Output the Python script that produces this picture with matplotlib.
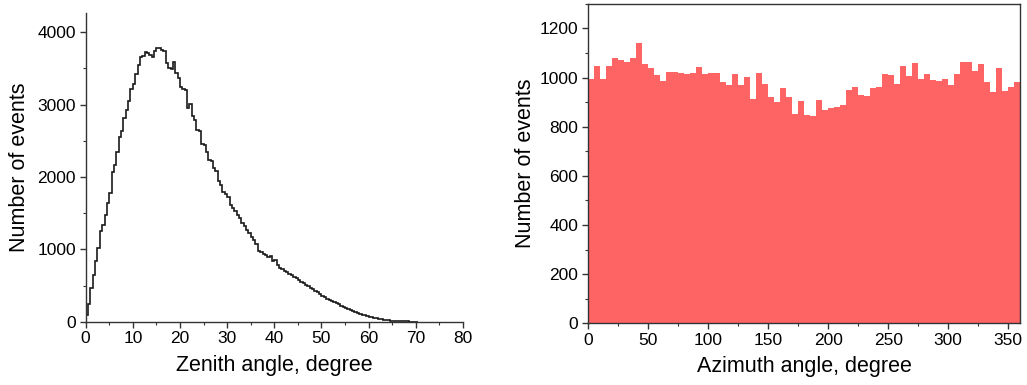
import matplotlib
matplotlib.use("Agg")
import matplotlib.pyplot as plt
from matplotlib.ticker import MultipleLocator
import numpy as np

plt.rcParams["font.family"] = ["Liberation Sans", "DejaVu Sans"]

# zenith histogram, 0.5 degree bins starting at 0
zenith_bin = 0.5
zenith_counts = [90, 250, 460, 650, 840, 1015, 1250, 1340, 1480, 1640,
                 1780, 2070, 2170, 2350, 2550, 2630, 2810, 2930, 3050, 3210,
                 3280, 3420, 3550, 3650, 3670, 3730, 3715, 3690, 3650, 3740,
                 3775, 3785, 3760, 3740, 3580, 3510, 3485, 3590, 3440, 3370,
                 3240, 3220, 3195, 2955, 3005, 2845, 2790, 2645, 2635, 2455,
                 2440, 2345, 2240, 2215, 2124, 2087, 1948, 1893, 1791, 1763,
                 1727, 1607, 1570, 1533, 1468, 1431, 1357, 1325, 1260, 1219,
                 1177, 1131, 1071, 970, 960, 932, 923, 900, 905, 840,
                 859, 785, 745, 730, 700, 688, 655, 640, 612, 598,
                 570, 552, 528, 505, 492, 470, 452, 428, 408, 385,
                 362, 343, 320, 302, 288, 268, 252, 240, 222, 207,
                 190, 178, 162, 150, 136, 122, 112, 98, 90, 80,
                 70, 61, 52, 46, 38, 33, 28, 22, 19, 15,
                 12, 10, 8, 6, 5, 4, 3, 2, 2, 1, 1]

# azimuth histogram, 5 degree bins
azimuth_bin = 5
azimuth_counts = [995, 1048, 995, 1048, 1080, 1070, 1063, 1080, 1141, 1056,
                  1041, 1010, 986, 1022, 1022, 1018, 1014, 1018, 1043, 1014,
                  1018, 1020, 982, 969, 1014, 969, 1002, 911, 1018, 974,
                  922, 902, 957, 922, 851, 904, 847, 843, 908, 868,
                  876, 880, 889, 950, 961, 930, 926, 957, 963, 1014,
                  1012, 973, 1049, 1006, 1059, 995, 1016, 991, 986, 993,
                  969, 1016, 1064, 1065, 1025, 1056, 984, 940, 1040, 947,
                  961, 984]

fig = plt.figure(figsize=(10.27, 3.85), dpi=100)
ax1 = fig.add_axes([0.0834, 0.1644, 0.3674, 0.801])
ax2 = fig.add_axes([0.5727, 0.1600, 0.4207, 0.830])

spine_col = "#333333"

# left: zenith
edges = np.arange(len(zenith_counts) + 1) * zenith_bin
ax1.stairs(zenith_counts, edges, baseline=0, color="#1a1a1a", linewidth=1.2)
ax1.set_xlim(0, 80)
ax1.set_ylim(0, 4260)
ax1.xaxis.set_major_locator(MultipleLocator(10))
ax1.xaxis.set_minor_locator(MultipleLocator(5))
ax1.yaxis.set_major_locator(MultipleLocator(1000))
ax1.yaxis.set_minor_locator(MultipleLocator(500))
ax1.spines["top"].set_visible(False)
ax1.spines["right"].set_visible(False)
ax1.set_xlabel("Zenith angle, degree", fontsize=15.5, labelpad=6)
ax1.set_ylabel("Number of events", fontsize=15.5, labelpad=5)

# right: azimuth
az_left = np.arange(len(azimuth_counts)) * azimuth_bin
ax2.bar(az_left, azimuth_counts, width=azimuth_bin, align="edge",
        color="#ff6464", linewidth=0)
ax2.set_xlim(0, 360)
ax2.set_ylim(0, 1300)
ax2.xaxis.set_major_locator(MultipleLocator(50))
ax2.xaxis.set_minor_locator(MultipleLocator(25))
ax2.yaxis.set_major_locator(MultipleLocator(200))
ax2.yaxis.set_minor_locator(MultipleLocator(100))
ax2.set_xlabel("Azimuth angle, degree", fontsize=15.5, labelpad=6)
ax2.set_ylabel("Number of events", fontsize=15.5, labelpad=3)

for ax in (ax1, ax2):
    for s in ax.spines.values():
        s.set_color(spine_col)
        s.set_linewidth(1.0)
    ax.tick_params(which="major", direction="out", length=4, width=1.0,
                   color=spine_col, labelsize=12.5, pad=3)
    ax.tick_params(which="minor", direction="out", length=2.5, width=0.8,
                   color=spine_col)

fig.savefig("out.png", dpi=100)
